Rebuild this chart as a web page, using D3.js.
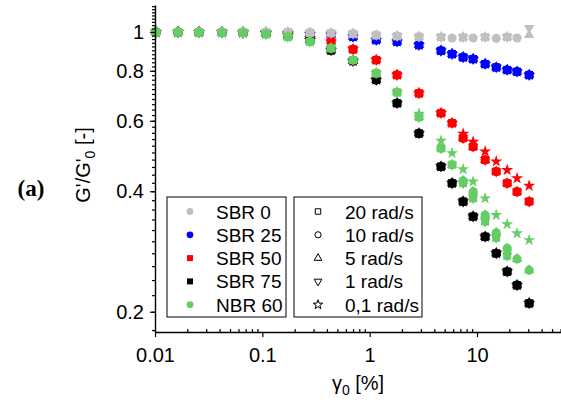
<!DOCTYPE html>
<html>
<head>
<meta charset="utf-8">
<script src="https://d3js.org/d3.v7.min.js"></script>
<style>
body { margin: 0; background: #fff; }
text { font-family: "Liberation Sans", Arial, sans-serif; fill: #000; }
</style>
</head>
<body>
<svg width="561" height="403"></svg>
<script>
// strain amplitude [%]
var strain = [0.0102, 0.0164, 0.0257, 0.0421, 0.0661, 0.108, 0.173, 0.278, 0.437, 0.700, 1.15,
              1.80, 2.88, 4.62, 5.86, 7.42, 9.20, 11.9, 15.1, 19.1, 23.6, 30.6];

// G'/G'0 (null = no point)
var sbr0       = [1.0, 1.0, 1.0, 1.0, 1.0, 1.0, 0.998, 0.996, 0.994, 0.99, 0.982, 0.977, 0.973, 0.971, null, 0.970, null, 0.971, null, 0.972, null, null];
var sbr0TriUp  = [1.0, 1.0, 1.0, 1.0, 1.0, 1.0, 0.998, 0.996, 0.994, 0.99, 0.982, 0.977, 0.973, 0.971, null, 0.970, null, 0.971, null, 0.972, null, 0.983];
var sbr0TriDn  = [1.0, 1.0, 1.0, 1.0, 1.0, 1.0, 0.998, 0.996, 0.994, 0.99, 0.982, 0.977, 0.973, 0.971, null, 0.970, null, 0.971, null, 0.972, null, 1.023];
var sbr0Circle = [1.0, 1.0, 1.0, 1.0, 1.0, 1.0, 0.998, 0.996, 0.994, 0.99, 0.982, 0.977, 0.973, null, 0.966, null, 0.966, null, 0.964, null, 0.966, null];
var sbr25      = [1.0, 1.0, 1.0, 1.0, 0.999, 0.998, 0.995, 0.989, 0.984, 0.973, 0.955, 0.946, 0.928, 0.898, 0.881, 0.865, 0.856, 0.832, 0.816, 0.804, 0.796, 0.781];
var sbr50      = [1.0, 1.0, 0.999, 0.998, 0.997, 0.995, 0.985, 0.966, 0.946, 0.905, 0.851, 0.781, 0.703, 0.627, 0.592, 0.543, 0.517, 0.479, 0.448, 0.419, 0.399, 0.377];
var sbr50Star  = [1.0, 1.0, 0.999, 0.998, 0.997, 0.995, 0.985, 0.966, 0.946, 0.905, 0.851, 0.781, 0.703, 0.627, 0.592, 0.557, 0.532, 0.503, 0.475, 0.452, 0.431, 0.413];
var sbr75      = [1.0, 1.0, 0.999, 0.998, 0.996, 0.993, 0.982, 0.955, 0.900, 0.846, 0.759, 0.664, 0.558, 0.461, 0.419, 0.377, 0.346, 0.308, 0.280, 0.252, 0.233, 0.210];
var nbr60      = [0.998, 0.998, 0.997, 0.996, 0.995, 0.988, 0.973, 0.946, 0.911, 0.851, 0.789, 0.707, 0.613, 0.512, 0.466, 0.425, 0.399, 0.349, 0.315, 0.288, 0.271, 0.254];
var nbr60Sq    = [0.998, 0.998, 0.997, 0.996, 0.995, 0.988, 0.973, 0.946, 0.911, 0.851, 0.789, 0.707, 0.613, 0.512, 0.466, 0.419, 0.384, 0.336, 0.306, 0.276, null, null];
var nbr60Star  = [0.998, 0.998, 0.997, 0.996, 0.995, 0.988, 0.973, 0.946, 0.911, 0.851, 0.789, 0.707, 0.625, 0.535, 0.498, 0.454, 0.423, 0.384, 0.349, 0.331, 0.314, 0.302];

var materials = ["SBR 0", "SBR 25", "SBR 50", "SBR 75", "NBR 60"];
var matColors = ["#c0c0c0", "#0000ff", "#ff0000", "#000000", "#66cc66"];
var freqs = ["20 rad/s", "10 rad/s", "5 rad/s", "1 rad/s", "0,1 rad/s"];

// per material: values for [20, 10, 5, 1, 0.1 rad/s]
var seriesValues = {
  "SBR 0":  [sbr0, sbr0Circle, sbr0TriUp, sbr0TriDn, sbr0],
  "SBR 25": [sbr25, sbr25, sbr25, sbr25, sbr25],
  "SBR 50": [sbr50, sbr50, sbr50, sbr50, sbr50Star],
  "SBR 75": [sbr75, sbr75, sbr75, sbr75, sbr75],
  "NBR 60": [nbr60Sq, nbr60, nbr60, nbr60Sq, nbr60Star]
};

var xTicks = [0.01, 0.1, 1, 10];
var yTicks = [0.2, 0.4, 0.6, 0.8, 1];

var svg = d3.select("svg");

var x = d3.scaleLog().domain([0.01, 60.6]).range([155, 561]);
var y = d3.scaleLog().domain([0.178, 1.168]).range([332, 5]);

var symTypes = [d3.symbolSquare, d3.symbolCircle, d3.symbolTriangle, d3.symbolTriangle, d3.symbolStar];
var symSizes = [64, 66, 46, 46, 46];
var symRot = [0, 0, 0, 180, 0];

// data points: draw order of materials and frequencies
var matOrder = [1, 2, 3, 0, 4];
var freqOrder = [4, 3, 2, 0, 1];
var pts = svg.append("g");
matOrder.forEach(function(m) {
  freqOrder.forEach(function(f) {
    var vals = seriesValues[materials[m]][f];
    var data = strain.map(function(s, i) { return {s: s, v: vals[i]}; })
      .filter(function(d) { return d.v != null; });
    pts.selectAll(null)
      .data(data)
      .enter().append("path")
      .attr("d", d3.symbol().type(symTypes[f]).size(symSizes[f]))
      .attr("transform", function(d) {
        return "translate(" + x(d.s) + "," + y(d.v) + ") rotate(" + symRot[f] + ")";
      })
      .attr("fill", matColors[m]);
  });
});

// minor ticks
var xMinor = [];
[0.01, 0.1, 1, 10].forEach(function(dec) {
  for (var k = 2; k <= 9; k++) if (dec * k <= 60) xMinor.push(dec * k);
});
var yMinor = [];
for (var v = 0.18; v <= 1.165; v += 0.02) yMinor.push(+v.toFixed(2));

// x axis
var gx = svg.append("g").attr("transform", "translate(0,332)");
gx.call(d3.axisBottom(x).tickValues(xTicks).tickSize(5).tickSizeOuter(0).tickPadding(11)
    .tickFormat(function(d) { return d3.format("~g")(d); }));
gx.append("g").call(d3.axisBottom(x).tickValues(xMinor).tickSize(-3).tickSizeOuter(0).tickFormat(""))
  .select(".domain").remove();

// y axis
var gy = svg.append("g").attr("transform", "translate(155,0)");
gy.call(d3.axisLeft(y).tickValues(yTicks).tickSize(5).tickSizeOuter(0).tickPadding(6)
    .tickFormat(function(d) { return d3.format("~g")(d); }));
gy.append("g").call(d3.axisLeft(y).tickValues(yMinor).tickSize(3).tickSizeOuter(0).tickFormat(""))
  .select(".domain").remove();

svg.selectAll(".domain").attr("stroke-width", 1.4);
svg.selectAll(".tick line").attr("stroke-width", 1.2);
svg.selectAll(".tick text").attr("font-size", 20).attr("font-family", "'Liberation Sans', Arial, sans-serif");

// axis titles
var xt = svg.append("text").attr("x", 358).attr("y", 390).attr("text-anchor", "middle").attr("font-size", 20);
xt.append("tspan").text("\u03b3");
xt.append("tspan").attr("font-size", 14).attr("dy", 5).text("0");
xt.append("tspan").attr("dy", -5).text(" [%]");

var yt = svg.append("text").attr("transform", "translate(90,165) rotate(-90)")
  .attr("text-anchor", "middle").attr("font-size", 20);
yt.append("tspan").text("G'/G'");
yt.append("tspan").attr("font-size", 14).attr("dy", 5).text("0");
yt.append("tspan").attr("dy", -5).text(" [-]");

svg.append("text").attr("x", 31).attr("y", 196).attr("text-anchor", "middle")
  .attr("font-size", 23).attr("font-weight", "bold")
  .style("font-family", "'Liberation Serif', 'DejaVu Serif', serif")
  .text("(a)");

// legends
var rowY = function(i) { return 211.5 + i * 23.3; };
var leg1 = svg.append("g");
leg1.append("rect").attr("x", 167).attr("y", 197).attr("width", 119).attr("height", 120)
  .attr("fill", "#fff").attr("stroke", "#000").attr("stroke-width", 1);
var legSym1 = [d3.symbolCircle, d3.symbolCircle, d3.symbolSquare, d3.symbolSquare, d3.symbolCircle];
materials.forEach(function(m, i) {
  leg1.append("path").attr("d", d3.symbol().type(legSym1[i]).size(36)())
    .attr("transform", "translate(190," + rowY(i) + ")").attr("fill", matColors[i]);
  leg1.append("text").attr("x", 216).attr("y", rowY(i) + 7).attr("font-size", 19).text(m);
});

var leg2 = svg.append("g");
leg2.append("rect").attr("x", 294).attr("y", 197).attr("width", 128).attr("height", 120)
  .attr("fill", "#fff").attr("stroke", "#000").attr("stroke-width", 1);
var legSize2 = [30, 30, 26, 26, 28];
freqs.forEach(function(f, i) {
  leg2.append("path").attr("d", d3.symbol().type(symTypes[i]).size(legSize2[i])())
    .attr("transform", "translate(318," + rowY(i) + ") rotate(" + symRot[i] + ")")
    .attr("fill", "none").attr("stroke", "#000").attr("stroke-width", 1);
  leg2.append("text").attr("x", 345).attr("y", rowY(i) + 7).attr("font-size", 19).text(f);
});
</script>
</body>
</html>
